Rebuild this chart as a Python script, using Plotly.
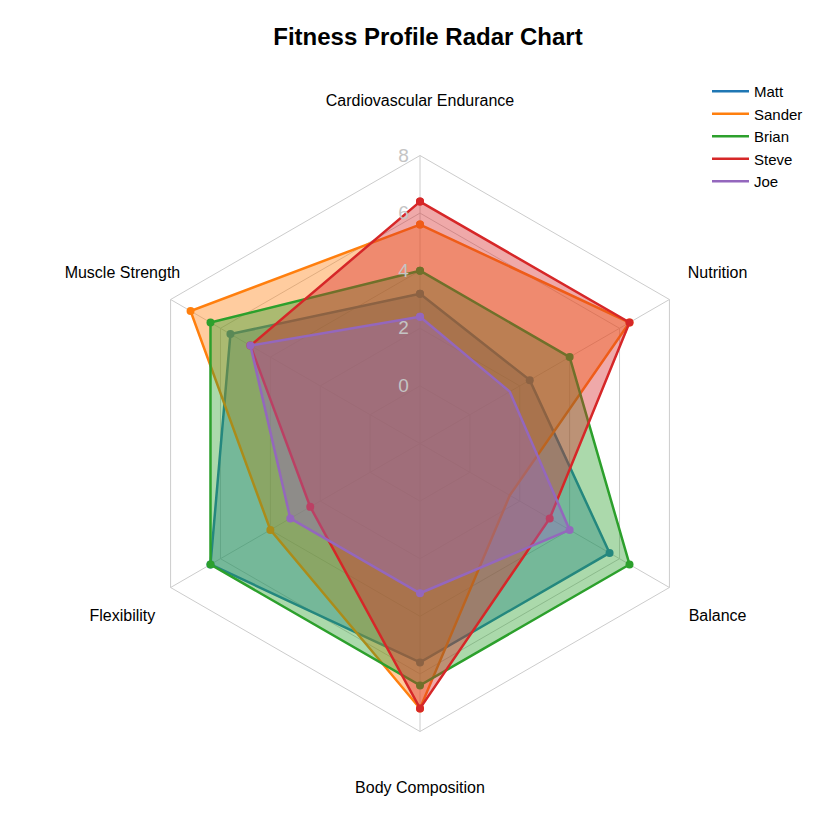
import plotly.graph_objects as go

categories = ["Cardiovascular Endurance", "Nutrition", "Balance",
              "Body Composition", "Flexibility", "Muscle Strength"]

names = ["Matt", "Sander", "Brian", "Steve", "Joe"]

matt = [3.2, 2.4, 5.6, 5.6, 6.4, 5.6]
sander = [5.6, 6.4, 1.6, 7.2, 4.0, 7.2]
brian = [4.0, 4.0, 6.4, 6.4, 6.4, 6.4]
steve = [6.4, 6.4, 3.2, 7.2, 2.4, 4.8]
joe = [2.4, 1.6, 4.0, 3.2, 3.2, 4.8]

radial_ticks = [0, 2, 4, 6, 8]

colors = ["#1f77b4", "#ff7f0e", "#2ca02c", "#d62728", "#9467bd"]
fills = ["rgba(31,119,180,0.4)", "rgba(255,127,14,0.4)", "rgba(44,160,44,0.4)",
         "rgba(214,39,40,0.4)", "rgba(148,103,189,0.4)"]

W = 840
cx, cy = 412, 435.5   # chart centre in px
R = 288               # outer ring radius in px
R_lab = 343.6         # radius of the category labels


def dom(c, r, flip=False):
    lo, hi = c - r, c + r
    if flip:
        return [(W - hi) / W, (W - lo) / W]
    return [lo / W, hi / W]


fig = go.Figure()

for name, vals, c, fc in zip(names, [matt, sander, brian, steve, joe], colors, fills):
    # close the polygon
    fig.add_trace(go.Scatterpolar(
        r=vals + vals[:1],
        theta=categories + categories[:1],
        name=name,
        showlegend=False,
        mode="lines+markers",
        fill="toself",
        fillcolor=fc,
        line=dict(color=c, width=2.5),
        marker=dict(color=c, size=8),
    ))

# legend shows plain lines only
for name, c in zip(names, colors):
    fig.add_trace(go.Scatterpolar(
        r=[None], theta=[None], name=name,
        mode="lines", line=dict(color=c, width=2.5),
    ))

# category labels on a second, larger (invisible) polar
fig.add_trace(go.Scatterpolar(
    r=[1] * len(categories), theta=categories, text=categories,
    mode="text", textposition="middle center", cliponaxis=False,
    textfont=dict(size=16, color="black"), showlegend=False, hoverinfo="skip",
    subplot="polar2",
))

hidden = dict(visible=False, showgrid=False, showline=False, showticklabels=False)

fig.update_layout(
    width=W, height=W,
    template="none",
    paper_bgcolor="white",
    font=dict(family="Liberation Sans, Arial, sans-serif", size=16, color="black"),
    title=dict(text="<b>Fitness Profile Radar Chart</b>", x=0.5, xanchor="center",
               y=1 - 29 / W, yanchor="middle", yref="container",
               font=dict(size=24, color="black")),
    margin=dict(t=0, b=0, l=0, r=0, autoexpand=False),
    showlegend=True,
    legend=dict(x=699 / W, xanchor="left", y=1 - 67 / W, yanchor="top",
                font=dict(size=15), bgcolor="rgba(0,0,0,0)", tracegroupgap=0,
                itemwidth=37),
    polar=dict(
        domain=dict(x=dom(cx, R), y=dom(cy, R, flip=True)),
        bgcolor="white",
        gridshape="linear",
        radialaxis=dict(
            range=[-2, 8],
            tickvals=radial_ticks,
            showline=False,
            gridcolor="#cccccc",
            tickfont=dict(size=19, color="#c4c4c4"),
            angle=90,
            tickangle=90,
            side="counterclockwise",
            ticks="outside",
            ticklen=4,
            tickcolor="rgba(0,0,0,0)",
        ),
        angularaxis=dict(
            direction="clockwise",
            rotation=90,
            gridcolor="#cccccc",
            linecolor="#cccccc",
            showline=True,
            showticklabels=False,
            ticks="",
        ),
    ),
    polar2=dict(
        domain=dict(x=dom(cx, R_lab), y=dom(cy + 2, R_lab, flip=True)),
        bgcolor="rgba(0,0,0,0)",
        radialaxis=dict(range=[0, 1], **hidden),
        angularaxis=dict(direction="clockwise", rotation=90, **hidden),
    ),
)

fig.write_html("out.html")
